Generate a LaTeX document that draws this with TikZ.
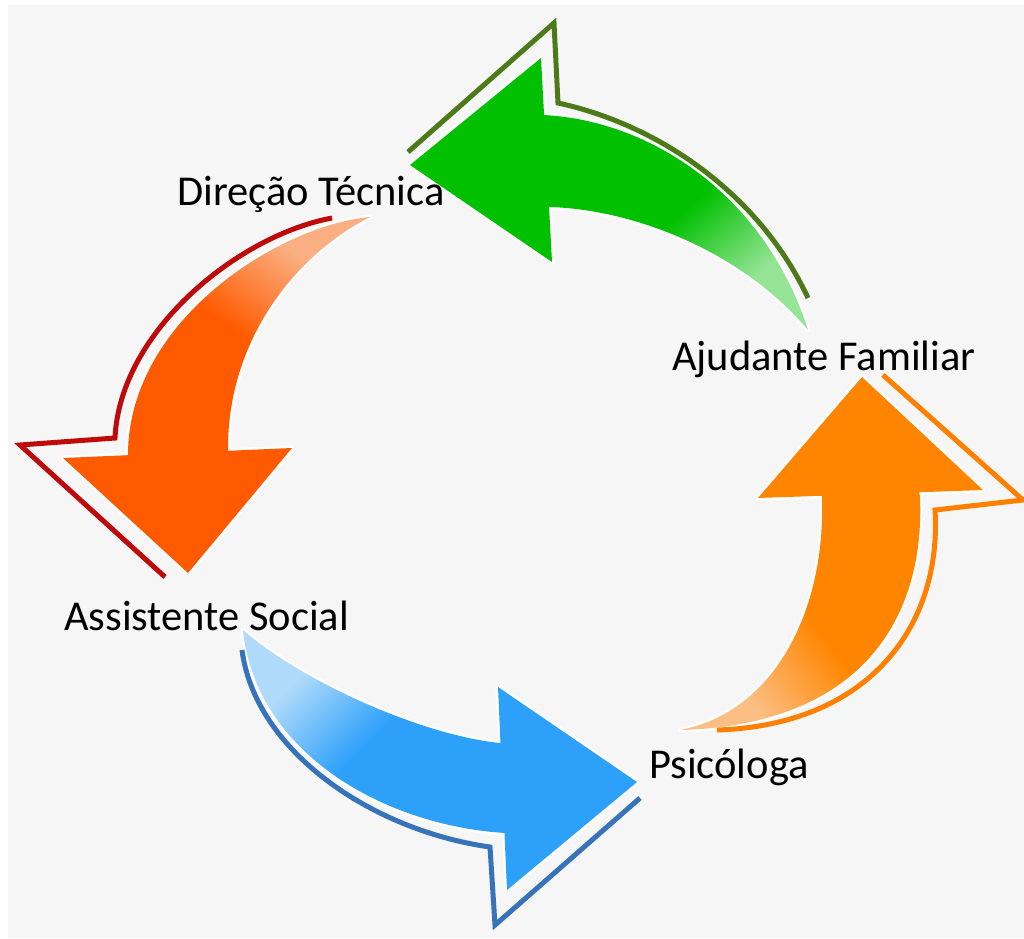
\documentclass[tikz,border=0pt]{standalone}
\usepackage{fontspec}
\setmainfont{Carlito}
\definecolor{bg}{HTML}{F6F6F6}
\definecolor{gBase}{RGB}{0,192,0}
\definecolor{gLight}{RGB}{150,228,150}
\definecolor{gLine}{RGB}{77,122,25}
\definecolor{rBase}{RGB}{255,90,0}
\definecolor{rLight}{RGB}{250,175,130}
\definecolor{rLine}{RGB}{190,10,10}
\definecolor{bBase}{RGB}{45,160,250}
\definecolor{bLight}{RGB}{175,218,250}
\definecolor{bLine}{RGB}{55,115,185}
\definecolor{oBase}{RGB}{255,133,0}
\definecolor{oLight}{RGB}{252,190,130}
\definecolor{oLine}{RGB}{255,128,0}
\pgfdeclarehorizontalshading{gsh}{100bp}{color(0bp)=(gLight); color(30bp)=(gLight); color(50bp)=(gBase); color(100bp)=(gBase)}
\pgfdeclarehorizontalshading{rsh}{100bp}{color(0bp)=(rLight); color(30bp)=(rLight); color(50bp)=(rBase); color(100bp)=(rBase)}
\pgfdeclarehorizontalshading{bsh}{100bp}{color(0bp)=(bLight); color(30bp)=(bLight); color(50bp)=(bBase); color(100bp)=(bBase)}
\pgfdeclarehorizontalshading{osh}{100bp}{color(0bp)=(oLight); color(30bp)=(oLight); color(50bp)=(oBase); color(100bp)=(oBase)}
\tikzset{
  lbl/.style={font=\fontsize{42.5}{50}\selectfont, inner sep=0pt, text=black, anchor=base west},
  halo/.style={draw=white, line width=5pt, line join=round},
  rim/.style={line width=5pt, line join=miter},
}
\def\gBody{(531,116) -- (543,115) .. controls (650,120) and (765,195) .. (808,330) .. controls (745,255) and (640,210) .. (550,207) -- (538,206) -- cycle}
\def\gHead{(410,165) -- (541,58) -- (552,262) -- cycle}
\def\rBody{(130,467) -- (128,455) .. controls (128,320) and (280,225) .. (370,217) .. controls (295,255) and (228,340) .. (228,448) -- (228,460) -- cycle}
\def\rHead{(63,458) -- (188,573) -- (292,448) -- cycle}
\def\bBody{(243,630) .. controls (300,680) and (420,735) .. (500,743) -- (512,743) -- (517,833) -- (505,833) .. controls (380,825) and (255,750) .. (243,630) -- cycle}
\def\bHead{(498,687) -- (637,782) -- (507,890) -- cycle}
\def\oBody{(822,488) -- (822,500) .. controls (825,610) and (775,712) .. (680,730) .. controls (860,725) and (925,620) .. (920,497) -- (918,485) -- cycle}
\def\oHead{(862,377) -- (983,490) -- (758,498) -- cycle}
\begin{document}
\begin{tikzpicture}[x=1pt,y=-1pt]
\useasboundingbox (0,0) rectangle (1024,938);
\fill[white] (0,0) rectangle (1024,938);
\fill[bg] (8,5) rectangle (1024,938);
% halos
\path[halo] \gBody; \path[halo] \gHead;
\path[halo] \rBody; \path[halo] \rHead;
\path[halo] \bBody; \path[halo] \bHead;
\path[halo] \oBody; \path[halo] \oHead;
% outlines
\draw[rim, gLine] (408,152) -- (554,23) -- (558,103) .. controls (660,125) and (760,195) .. (808,298);
\draw[rim, rLine] (332,218) .. controls (240,235) and (120,330) .. (115,438) -- (20,445) -- (165,577);
\draw[rim, bLine] (242,650) .. controls (255,750) and (370,830) .. (490,847) -- (495,925) -- (640,798);
\draw[rim, oLine] (883,375) -- (1023,500) -- (935,510) .. controls (942,625) and (870,725) .. (717,730);
% bodies
\path[shade, shading=gsh, shading angle=130] \gBody;
\path[shade, shading=rsh, shading angle=233] \rBody;
\path[shade, shading=bsh, shading angle=-45] \bBody;
\path[shade, shading=osh, shading angle=37] \oBody;
% heads
\fill[gBase] \gHead;
\fill[rBase] \rHead;
\fill[bBase] \bHead;
\fill[oBase] \oHead;
% labels
\node[lbl] (dir) at (177,205) {Direção Técnica};
\node[lbl] (aju) at (672,370) {Ajudante Familiar};
\node[lbl] (ass) at (64,630) {Assistente Social};
\node[lbl] (psi) at (649,778) {Psicóloga};
\end{tikzpicture}
\end{document}
